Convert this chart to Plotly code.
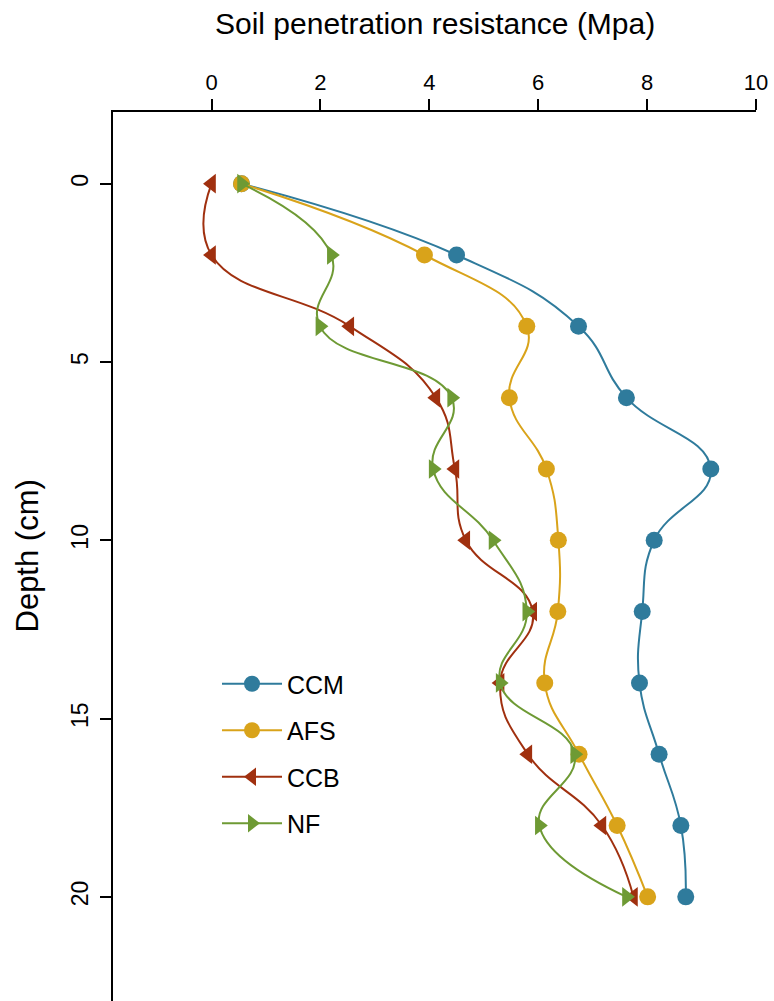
import plotly.graph_objects as go

depth = [0, 2, 4, 6, 8, 10, 12, 14, 16, 18, 20]
ccm = [0.55, 4.50, 6.74, 7.62, 9.17, 8.13, 7.91, 7.86, 8.22, 8.62, 8.71]
afs = [0.55, 3.91, 5.79, 5.47, 6.15, 6.37, 6.36, 6.12, 6.75, 7.45, 8.01]
ccb = [0.00, 0.00, 2.54, 4.12, 4.47, 4.67, 5.90, 5.30, 5.81, 7.17, 7.75]
nf = [0.55, 2.20, 1.99, 4.41, 4.07, 5.17, 5.79, 5.30, 6.67, 6.02, 7.62]

series_names = ["CCM", "AFS", "CCB", "NF"]
series_values = [ccm, afs, ccb, nf]
colors = ["#2F7B9C", "#D9A31A", "#A0300F", "#6E9A34"]
symbols = ["circle", "circle", "triangle-left", "triangle-right"]

x_ticks = [0, 2, 4, 6, 8, 10]
y_ticks = [0, 5, 10, 15, 20]

FONT = "Arial, Liberation Sans, sans-serif"

fig = go.Figure()
for name, vals, col, sym in zip(series_names, series_values, colors, symbols):
    fig.add_trace(go.Scatter(
        x=vals, y=depth, name=name, mode="lines+markers",
        line=dict(color=col, width=2, shape="spline", smoothing=1.3),
        marker=dict(color=col, size=17, symbol=sym, line=dict(width=0)),
        legendgroup=name,
    ))

fig.update_layout(
    width=774, height=1001,
    margin=dict(l=113, r=18, t=112, b=0, pad=0),
    paper_bgcolor="white", plot_bgcolor="white",
    font=dict(family=FONT, color="black"),
    showlegend=True,
    legend=dict(
        x=(217 - 113) / 643, y=1 - (661 - 112) / 889,
        xanchor="left", yanchor="top",
        font=dict(size=25, family=FONT, color="black"),
        bgcolor="rgba(0,0,0,0)",
        traceorder="grouped", tracegroupgap=11,
        itemwidth=60,
    ),
    xaxis=dict(
        side="top", range=[-1.81, 10.0],
        tickvals=x_ticks, ticktext=[str(v) for v in x_ticks],
        ticks="outside", ticklen=11, tickwidth=1.8, tickcolor="black",
        showline=True, linewidth=1.8, linecolor="black",
        showgrid=False, zeroline=False,
        tickfont=dict(size=22, family=FONT, color="black"),
    ),
    yaxis=dict(
        range=[22.92, -2.01],
        tickvals=y_ticks, ticktext=[str(v) for v in y_ticks],
        ticks="outside", ticklen=11, tickwidth=1.8, tickcolor="black",
        showline=True, linewidth=1.8, linecolor="black",
        showgrid=False, zeroline=False, tickangle=-90,
        ticklabelstandoff=3,
        tickfont=dict(size=23, family=FONT, color="black"),
    ),
    annotations=[
        dict(text="Soil penetration resistance (Mpa)", xref="paper", yref="paper",
             x=0.5, y=1, yshift=112 - 23, xanchor="center", yanchor="middle",
             showarrow=False, font=dict(size=30, family=FONT, color="black")),
        dict(text="Depth (cm)", xref="paper", yref="paper",
             x=0, xshift=-86, y=0.5, xanchor="center", yanchor="middle",
             textangle=-90, showarrow=False,
             font=dict(size=31, family=FONT, color="black")),
    ],
)

fig.write_html("out.html")
